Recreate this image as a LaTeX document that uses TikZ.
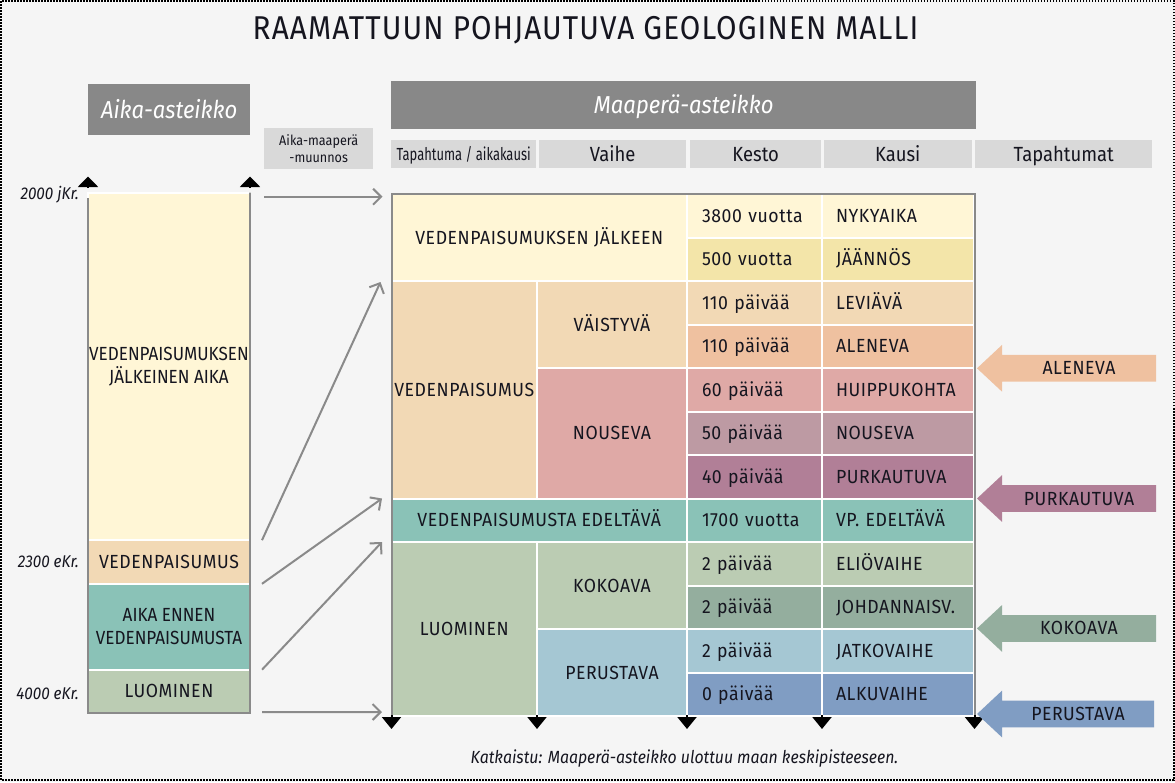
\documentclass[tikz,border=0pt]{standalone}
\usepackage{fontspec}
\setmainfont{Fira Sans}[FakeStretch=0.9]
\newfontfamily\narrowfont{Fira Sans}[FakeStretch=0.74]
\newfontfamily\cellfam{Fira Sans}[FakeStretch=0.93, LetterSpace=3]
\newfontfamily\titlefam{Fira Sans}[FakeStretch=0.9, LetterSpace=3.4]
\usetikzlibrary{arrows.meta}

\definecolor{bgc}{HTML}{F5F5F5}
\definecolor{ink}{HTML}{15151F}
\definecolor{hdark}{HTML}{888888}
\definecolor{hlight}{HTML}{D9D9D9}
\definecolor{gline}{HTML}{8A8A8A}
\definecolor{cYel}{HTML}{FFF6D6}
\definecolor{cYelB}{HTML}{F3E5A9}
\definecolor{cPeach}{HTML}{F2D9B5}
\definecolor{cAlen}{HTML}{EFC1A0}
\definecolor{cRose}{HTML}{DFA9A6}
\definecolor{cMauve}{HTML}{BD9AA3}
\definecolor{cPurk}{HTML}{B17F97}
\definecolor{cTeal}{HTML}{8AC2B7}
\definecolor{cSage}{HTML}{BBCCB3}
\definecolor{cSageB}{HTML}{94AE9E}
\definecolor{cSky}{HTML}{A5C7D3}
\definecolor{cBlue}{HTML}{809DC3}

\newcommand\cellfnt{\cellfam\fontsize{19}{23}\selectfont}
\newcommand\leftfnt{\fontsize{19}{23}\selectfont}

\newcommand\evarrow[5]{%
  \fill[#2] (977,#3) -- (1002,#3-23.35) -- (1002,#3-13.35) -- (#4,#3-13.35)
     -- (#4,#3+13.35) -- (1002,#3+13.35) -- (1002,#3+23.35) -- cycle;
  \node[font=\cellfnt, capline, text=ink, inner sep=0pt] (#1) at ({(1002+#4)/2},#3) {#5};
}

\begin{document}
\begin{tikzpicture}[x=1pt,y=-1pt,
  tcell/.style={rectangle, draw=white, line width=2pt, anchor=north west,
     inner sep=0pt, outer sep=0pt, font=\cellfnt, text=ink},
  capline/.style={text height=13pt, text depth=0pt},
  cthree/.style={tcell, capline, inner xsep=15pt, text width=105pt, align=left, minimum height=43.5pt},
  cfour/.style={tcell, capline, inner xsep=14pt, text width=124pt, align=left, minimum height=43.5pt},
  lseg/.style={tcell, minimum width=162pt, align=center, font=\leftfnt},
  darkhead/.style={rectangle, anchor=north west, fill=hdark, inner sep=0pt, text=white,
     font=\itshape\fontsize{24.5}{27}\selectfont, text height=17pt, text depth=0pt},
  lighthead/.style={rectangle, anchor=north west, fill=hlight, inner sep=0pt, text=ink,
     font=\fontsize{20.5}{23}\selectfont, text height=14pt, text depth=0pt, minimum height=28pt},
  datel/.style={anchor=east, inner sep=0pt, text=ink, font=\itshape\fontsize{17}{19}\selectfont,
     text height=12pt, text depth=0pt},
  conn/.style={draw=gline, line width=2pt, -{Straight Barb[length=8pt,width=16pt]}},
  uptip/.style={draw=black, line width=2pt, -{Triangle[width=20pt,length=10.5pt]}},
  downtip/.style={draw=black, line width=2pt, -{Triangle[width=19pt,length=12pt]}},
]
\useasboundingbox (0,0) rectangle (1175,782);
\fill[bgc] (0,0) rectangle (1175,782);
\draw[black, line width=2pt, dash pattern=on 1.5pt off 1.5pt] (1,1) rectangle (1173.5,780);

% title
\node[font=\titlefam\fontsize{33}{36}\selectfont, anchor=base, text=ink, inner sep=0pt] (title) at (585.5,39)
  {RAAMATTUUN POHJAUTUVA GEOLOGINEN MALLI};

% headers
\node[darkhead, minimum width=162pt, minimum height=51pt] (aika) at (88,84) {Aika-asteikko};
\node[darkhead, minimum width=585pt, minimum height=48pt] (maa) at (391,81) {Maaperä-asteikko};
\node[rectangle, anchor=north west, fill=hlight, inner sep=0pt, minimum width=109pt, minimum height=41pt,
  align=center, text=ink, font=\fontsize{14}{16.5}\selectfont] (conv) at (264,128) {Aika-maaperä\\-muunnos};
\node[lighthead, minimum width=145pt, font=\narrowfont\fontsize{17.5}{20}\selectfont, text height=12pt] (h1) at (391,140) {Tapahtuma / aikakausi};
\node[lighthead, minimum width=147pt] (h2) at (539,140) {Vaihe};
\node[lighthead, minimum width=131pt] (h3) at (690,140) {Kesto};
\node[lighthead, minimum width=148pt] (h4) at (823.5,140) {Kausi};
\node[lighthead, minimum width=177pt] (h5) at (975,140) {Tapahtumat};

% left time scale
\node[lseg, fill=cYel, minimum height=347.7pt] (L1) at (88,192.5) {VEDENPAISUMUKSEN\\JÄLKEINEN AIKA};
\node[lseg, fill=cPeach, minimum height=43.6pt, font=\cellfnt] (L2) at (88,540.2) {VEDENPAISUMUS};
\node[lseg, fill=cTeal, minimum height=85.9pt] (L3) at (88,583.8) {AIKA ENNEN\\VEDENPAISUMUSTA};
\node[lseg, fill=cSage, minimum height=43.3pt, font=\cellfnt] (L4) at (88,669.7) {LUOMINEN};
\draw[draw=gline, line width=2pt] (L1.north west) ++(0,5.5) -- (L4.south west) -- (L4.south east) -- (L1.north east) -- ++(0,5.5);
\draw[uptip] ([yshift=5.5pt]L1.north west) -- ++(0,-10.5);
\draw[uptip] ([yshift=5.5pt]L1.north east) -- ++(0,-10.5);

\node[datel] (d1) at (79,193) {2000 jKr.};
\node[datel] (d2) at (79,561.7) {2300 eKr.};
\node[datel] (d3) at (79,693) {4000 eKr.};

% table: merged cells
\node[tcell, capline, fill=cYel, minimum width=295.5pt, minimum height=87pt] (m0) at (391.5,194) {VEDENPAISUMUKSEN JÄLKEEN};
\node[tcell, capline, fill=cPeach, minimum width=145.5pt, minimum height=217.5pt] (vp) at (391.5,281) {VEDENPAISUMUS};
\node[tcell, capline, fill=cPeach, minimum width=150pt, minimum height=87pt] (vai) at (537,281) {VÄISTYVÄ};
\node[tcell, capline, fill=cRose, minimum width=150pt, minimum height=130.5pt] (nou) at (537,368) {NOUSEVA};
\node[tcell, capline, fill=cTeal, minimum width=295.5pt, minimum height=43.5pt] (vpe) at (391.5,498.5) {VEDENPAISUMUSTA EDELTÄVÄ};
\node[tcell, capline, fill=cSage, minimum width=145.5pt, minimum height=174pt] (luo) at (391.5,542) {LUOMINEN};
\node[tcell, capline, fill=cSage, minimum width=150pt, minimum height=87pt] (kok) at (537,542) {KOKOAVA};
\node[tcell, capline, fill=cSky, minimum width=150pt, minimum height=87pt] (per) at (537,629) {PERUSTAVA};

% table: duration and period
\node[cthree, fill=cYel]   (k0)  at (687,194)   {3800 vuotta};
\node[cfour,  fill=cYel]   (s0)  at (822,194)   {NYKYAIKA};
\node[cthree, fill=cYelB]  (k1)  at (687,237.5) {500 vuotta};
\node[cfour,  fill=cYelB]  (s1)  at (822,237.5) {JÄÄNNÖS};
\node[cthree, fill=cPeach] (k2)  at (687,281)   {110 päivää};
\node[cfour,  fill=cPeach] (s2)  at (822,281)   {LEVIÄVÄ};
\node[cthree, fill=cAlen]  (k3)  at (687,324.5) {110 päivää};
\node[cfour,  fill=cAlen]  (s3)  at (822,324.5) {ALENEVA};
\node[cthree, fill=cRose]  (k4)  at (687,368)   {60 päivää};
\node[cfour,  fill=cRose]  (s4)  at (822,368)   {HUIPPUKOHTA};
\node[cthree, fill=cMauve] (k5)  at (687,411.5) {50 päivää};
\node[cfour,  fill=cMauve] (s5)  at (822,411.5) {NOUSEVA};
\node[cthree, fill=cPurk]  (k6)  at (687,455)   {40 päivää};
\node[cfour,  fill=cPurk]  (s6)  at (822,455)   {PURKAUTUVA};
\node[cthree, fill=cTeal]  (k7)  at (687,498.5) {1700 vuotta};
\node[cfour,  fill=cTeal]  (s7)  at (822,498.5) {VP. EDELTÄVÄ};
\node[cthree, fill=cSage]  (k8)  at (687,542)   {2 päivää};
\node[cfour,  fill=cSage]  (s8)  at (822,542)   {ELIÖVAIHE};
\node[cthree, fill=cSageB] (k9)  at (687,585.5) {2 päivää};
\node[cfour,  fill=cSageB] (s9)  at (822,585.5) {JOHDANNAISV.};
\node[cthree, fill=cSky]   (k10) at (687,629)   {2 päivää};
\node[cfour,  fill=cSky]   (s10) at (822,629)   {JATKOVAIHE};
\node[cthree, fill=cBlue]  (k11) at (687,672.5) {0 päivää};
\node[cfour,  fill=cBlue]  (s11) at (822,672.5) {ALKUVAIHE};

% table frame
\draw[draw=gline, line width=2pt] (luo.south west) -- ([yshift=0.5pt]m0.north west) -- ([yshift=0.5pt,xshift=0.5pt]s0.north east) -- ([xshift=0.5pt]s11.south east);
\draw[downtip] ([yshift=1pt]luo.south west) -- ++(0,14);
\draw[downtip] ([yshift=1pt]luo.south east) -- ++(0,14);
\draw[downtip] ([yshift=1pt]per.south east) -- ++(0,14);
\draw[downtip] ([yshift=1pt]k11.south east) -- ++(0,14);
\draw[downtip] ([yshift=1pt,xshift=0.5pt]s11.south east) -- ++(0,14);

% connectors
\draw[conn] ([xshift=14pt,yshift=-4.2pt]L1.north east) -- ([xshift=-9pt,yshift=-2.7pt]m0.north west);
\draw[conn] ([xshift=12pt]L1.south east) -- ([xshift=-11pt,yshift=-1pt]vp.north west);
\draw[conn] ([xshift=12pt]L2.south east) -- ([xshift=-9.5pt]vpe.north west);
\draw[conn] ([xshift=12pt]L3.south east) -- ([xshift=-9.5pt]luo.north west);
\draw[conn] ([xshift=12pt,yshift=1pt]L4.south east) -- ([xshift=-9.5pt,yshift=4pt]luo.south west);

% event arrows
\evarrow{eA}{cAlen}{368.3}{1156}{ALENEVA}
\evarrow{eP}{cPurk}{498.5}{1156}{PURKAUTUVA}
\evarrow{eK}{cSageB}{628.4}{1156}{KOKOAVA}
\evarrow{eR}{cBlue}{714}{1154}{PERUSTAVA}

% note
\node[font=\itshape\fontsize{17.6}{19}\selectfont, text=ink, text height=12.5pt, text depth=0pt, inner sep=0pt] (note)
  at (684.5,757) {Katkaistu: Maaperä-asteikko ulottuu maan keskipisteeseen.};
\end{tikzpicture}
\end{document}
